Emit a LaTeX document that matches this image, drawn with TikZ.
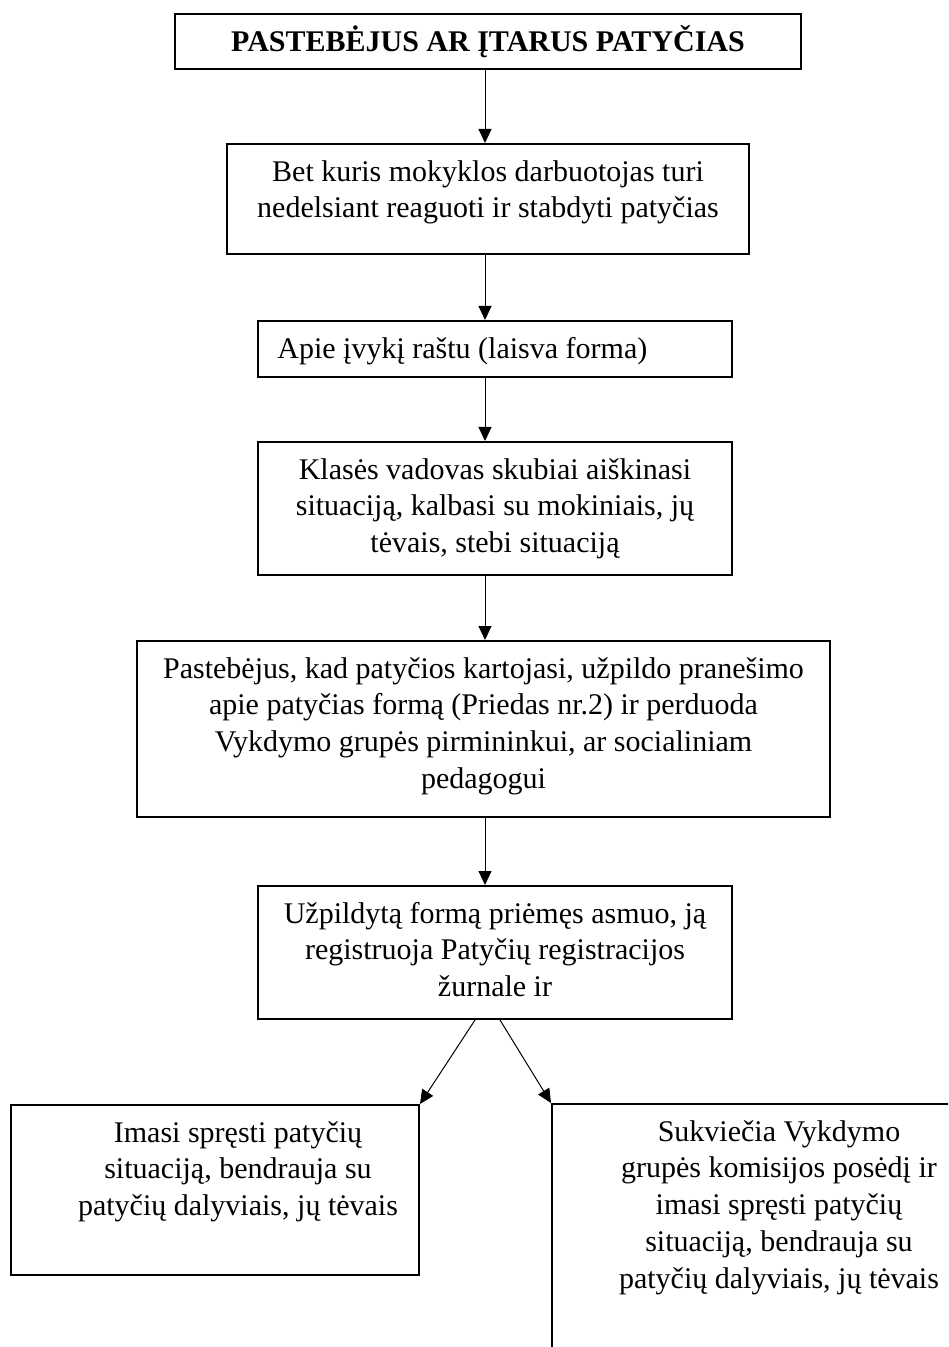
\documentclass[tikz,border=0pt]{standalone}
\usepackage{fontspec}
\setmainfont{Liberation Serif}
\usetikzlibrary{arrows.meta}
\begin{document}
\begin{tikzpicture}[x=0.5pt,y=-0.5pt,
  box/.style={draw, line width=1pt, inner sep=0pt},
  txt/.style={font=\fontsize{15}{18.4}\selectfont, inner sep=0pt, align=center},
  arr/.style={line width=0.5pt, -{Triangle[width=6.5pt,length=7pt]}}]
\path[use as bounding box, fill=white] (0,0) rectangle (948,1347);
\clip (0,0) rectangle (948,1347);

% boxes
\node[box, minimum width=313pt, minimum height=27.5pt] (b1) at (488,41.5) {};
\node[box, minimum width=261pt, minimum height=55pt] (b2) at (488,199) {};
\node[box, minimum width=237pt, minimum height=28pt] (b3) at (495,349) {};
\node[box, minimum width=237pt, minimum height=66.5pt] (b4) at (495,508.5) {};
\node[box, minimum width=346.5pt, minimum height=88pt] (b5) at (483.5,729) {};
\node[box, minimum width=237pt, minimum height=66.5pt] (b6) at (495,952.5) {};
\node[box, minimum width=204pt, minimum height=85pt] (b7) at (215,1190) {};
\node[box, minimum width=227pt, minimum height=158pt] (b8) at (779,1262) {};

% texts
\node[txt, anchor=north] (t1) at ([yshift=-6pt]b1.north) {\bfseries\strut PASTEBĖJUS AR ĮTARUS PATYČIAS};
\node[txt, anchor=north] (t2) at ([yshift=-6pt]b2.north) {\strut Bet kuris mokyklos darbuotojas turi\\ nedelsiant reaguoti ir stabdyti patyčias};
\node[txt, anchor=north west] (t3) at ([xshift=10pt,yshift=-6pt]b3.north west) {\strut Apie įvykį raštu (laisva forma)};
\node[txt, anchor=north] (t4) at ([yshift=-6pt]b4.north) {\strut Klasės vadovas skubiai aiškinasi\\ situaciją, kalbasi su mokiniais, jų\\ tėvais, stebi situaciją};
\node[txt, anchor=north] (t5) at ([yshift=-6pt]b5.north) {\strut Pastebėjus, kad patyčios kartojasi, užpildo pranešimo\\ apie patyčias formą (Priedas nr.2) ir perduoda\\ Vykdymo grupės pirmininkui, ar socialiniam\\ pedagogui};
\node[txt, anchor=north] (t6) at ([yshift=-6pt]b6.north) {\strut Užpildytą formą priėmęs asmuo, ją\\ registruoja Patyčių registracijos\\ žurnale ir};
\node[txt, anchor=north] (t7) at ([xshift=11.5pt,yshift=-6pt]b7.north) {\strut Imasi spręsti patyčių\\ situaciją, bendrauja su\\ patyčių dalyviais, jų tėvais};
\node[txt, anchor=north] (t8) at ([yshift=-6pt]b8.north) {\strut Sukviečia Vykdymo\\ grupės komisijos posėdį ir\\ imasi spręsti patyčių\\ situaciją, bendrauja su\\ patyčių dalyviais, jų tėvais};

% connectors
\coordinate (ax) at (485,0);
\draw[arr] (b1.south -| ax) -- (b2.north -| ax);
\draw[arr] (b2.south -| ax) -- (b3.north -| ax);
\draw[arr] (b3.south -| ax) -- (b4.north -| ax);
\draw[arr] (b4.south -| ax) -- (b5.north -| ax);
\draw[arr] (b5.south -| ax) -- (b6.north -| ax);
\draw[arr] ([xshift=-10pt]b6.south) -- (b7.north east);
\draw[arr] ([xshift=2.5pt]b6.south) -- (b8.north west);
\end{tikzpicture}
\end{document}
